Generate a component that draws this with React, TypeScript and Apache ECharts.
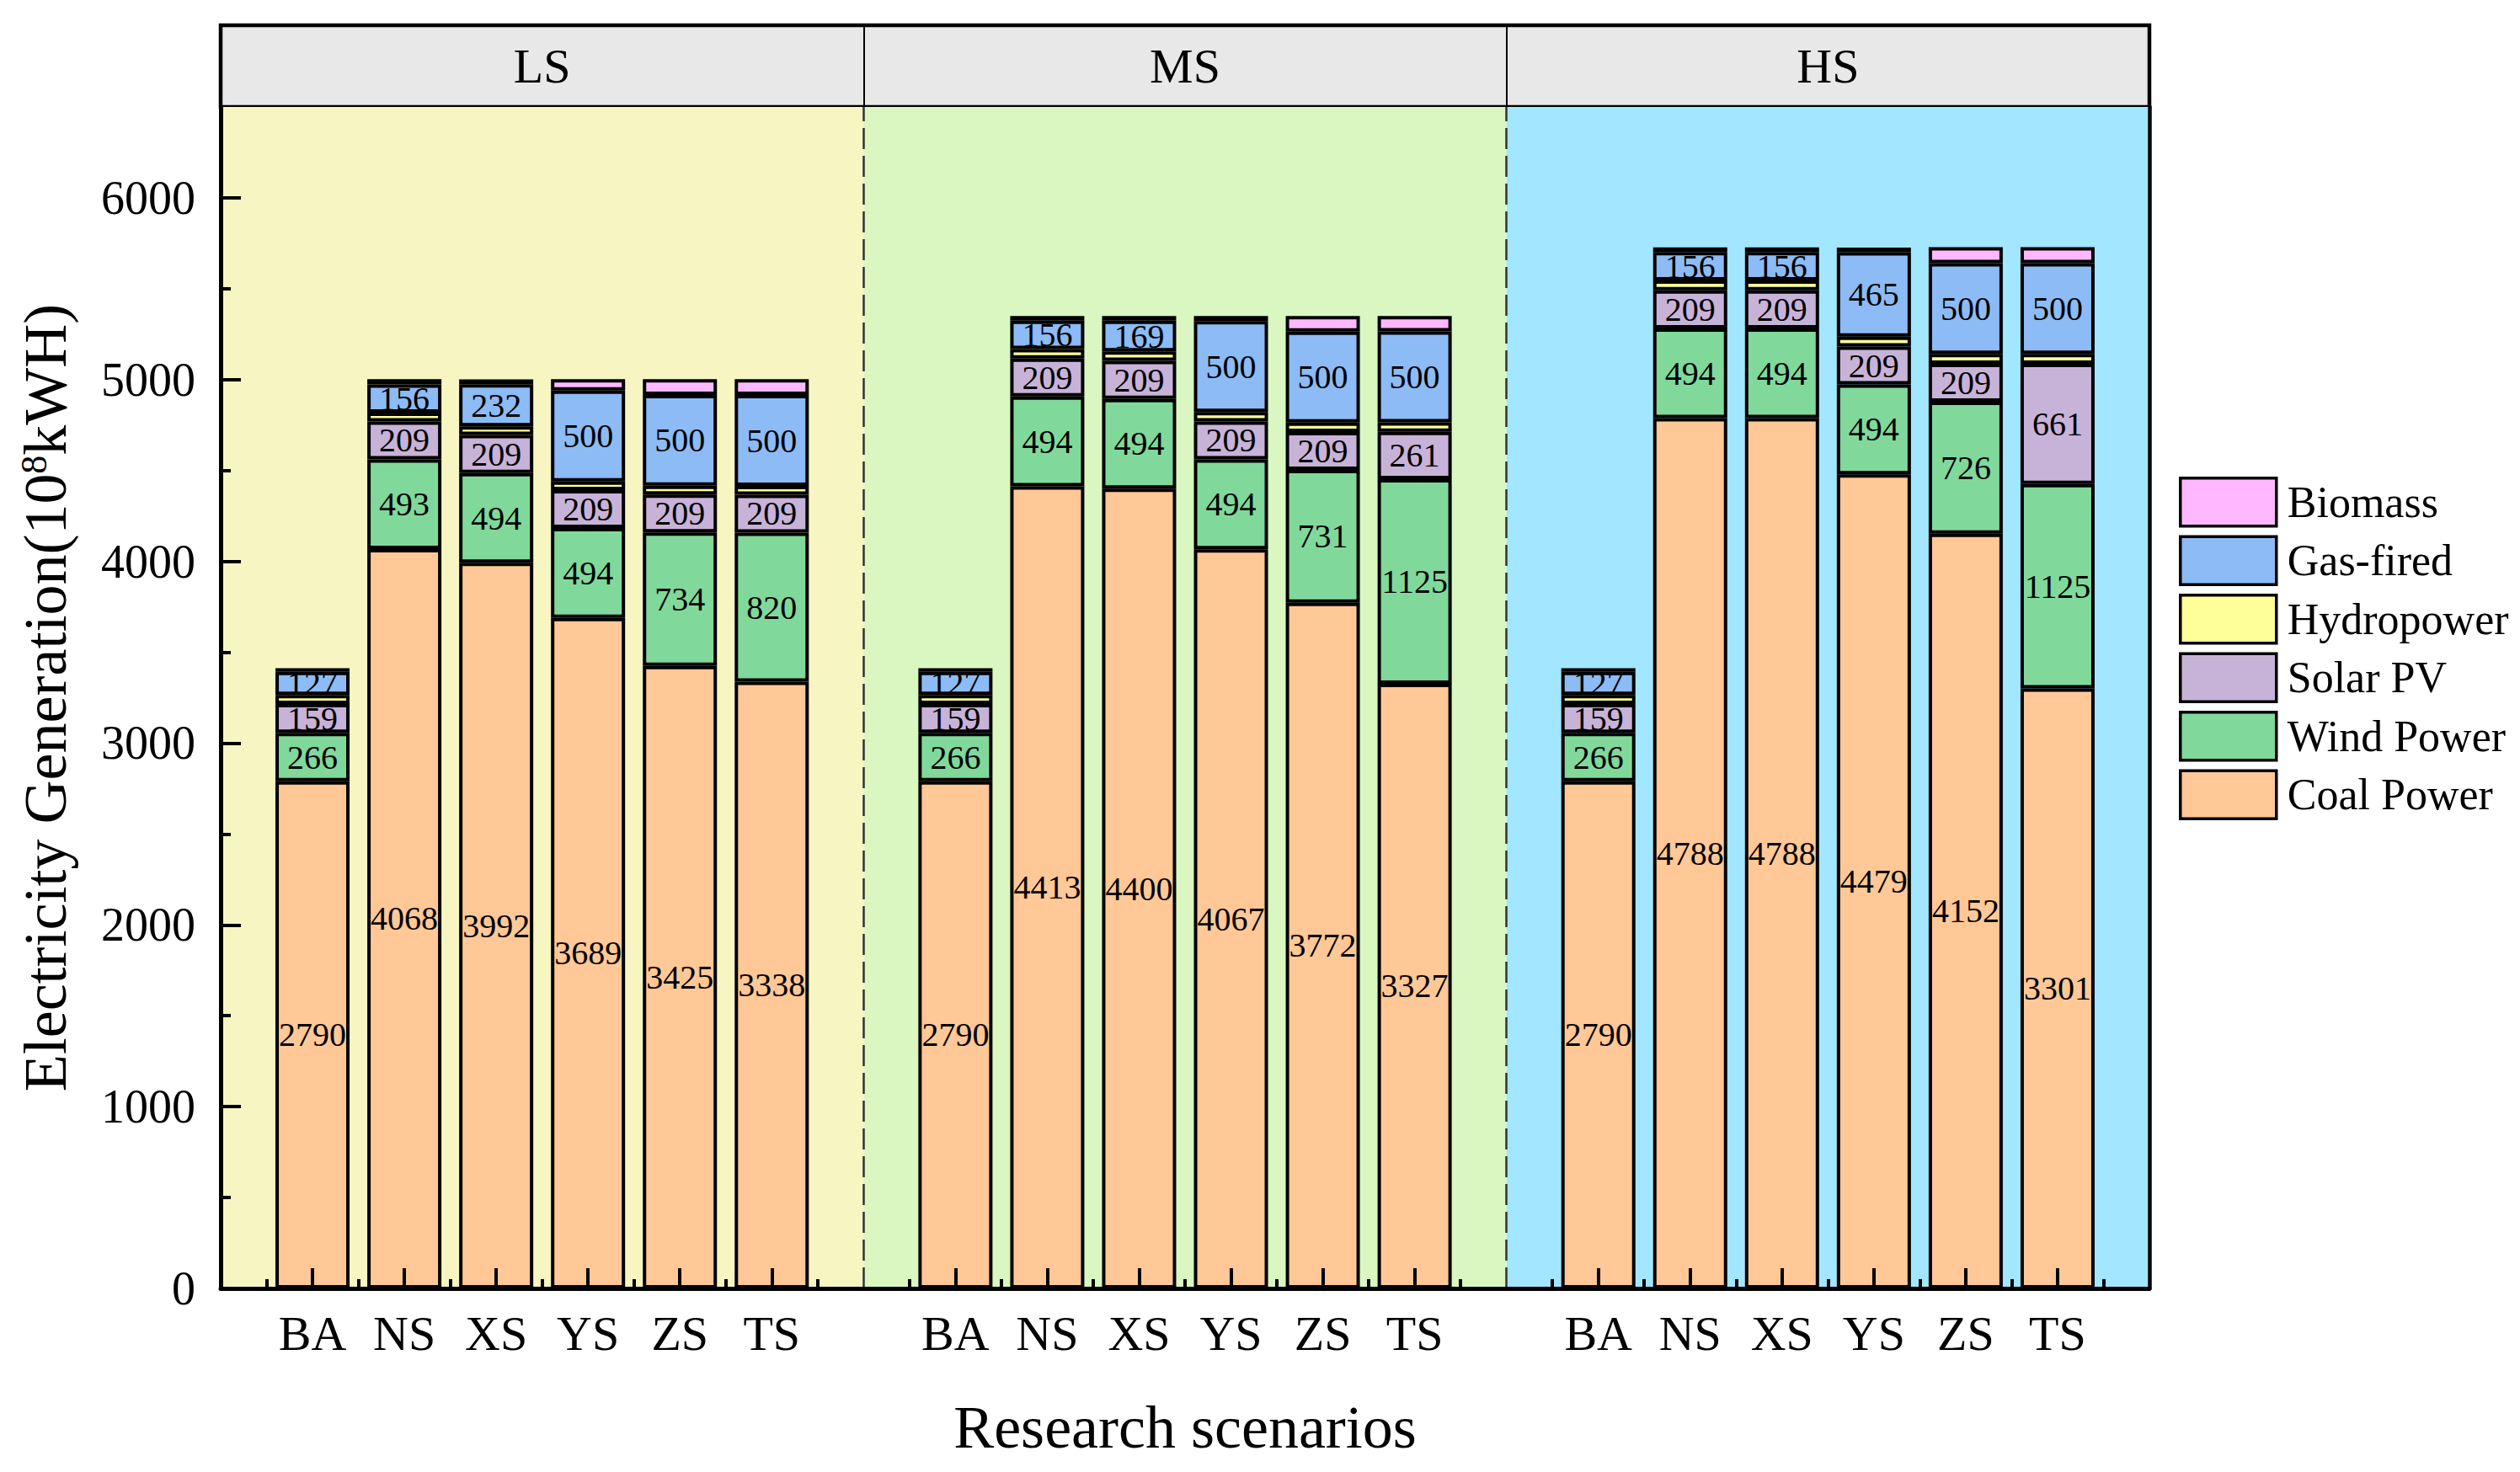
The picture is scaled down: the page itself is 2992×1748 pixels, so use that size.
import React, { useEffect, useRef } from 'react';
import * as echarts from 'echarts';

// ---------- data ----------
const groups = ['LS', 'MS', 'HS'];
const scenarios = ['BA', 'NS', 'XS', 'YS', 'ZS', 'TS'];
const coal = [2790, 4068, 3992, 3689, 3425, 3338, 2790, 4413, 4400, 4067, 3772, 3327, 2790, 4788, 4788, 4479, 4152, 3301];
const wind = [266, 493, 494, 494, 734, 820, 266, 494, 494, 494, 731, 1125, 266, 494, 494, 494, 726, 1125];
const solar = [159, 209, 209, 209, 209, 209, 159, 209, 209, 209, 209, 261, 159, 209, 209, 209, 209, 661];
const hydro = [50, 48, 48, 48, 48, 48, 50, 52, 52, 52, 52, 52, 50, 55, 55, 54, 54, 54];
const gas = [127, 156, 232, 500, 500, 500, 127, 156, 169, 500, 500, 500, 127, 156, 156, 465, 500, 500];
const biomass = [20, 28, 26, 62, 86, 87, 20, 26, 26, 28, 86, 85, 20, 25, 25, 25, 88, 88];
const yTicks = [0, 1000, 2000, 3000, 4000, 5000, 6000];
const yMinorTicks = [500, 1500, 2500, 3500, 4500, 5500];
const legendOrder = ['Biomass', 'Gas-fired', 'Hydropower', 'Solar PV', 'Wind Power', 'Coal Power'];

// ---------- styles ----------
const FONT = '"Liberation Serif", "Times New Roman", serif';
const seriesDefs = [
  { name: 'Coal Power', values: coal, color: '#FFC896', label: true },
  { name: 'Wind Power', values: wind, color: '#80D99B', label: true },
  { name: 'Solar PV', values: solar, color: '#C8B3D8', label: true },
  { name: 'Hydropower', values: hydro, color: '#FFFF99', label: false },
  { name: 'Gas-fired', values: gas, color: '#8CBBF5', label: true },
  { name: 'Biomass', values: biomass, color: '#FFB8FF', label: false },
];
const groupBg = ['#F7F5C2', '#DAF7C2', '#A3E6FF'];

export default function App() {
  const ref = useRef<HTMLDivElement>(null);

  useEffect(() => {
    const chart = echarts.init(ref.current!, null, { renderer: 'svg' });
    const slotsPerGroup = scenarios.length + 1;
    const xMax = groups.length * slotsPerGroup;
    // category slots: an empty slot at each group boundary
    const slotLabels: string[] = [''];
    groups.forEach(() => {
      scenarios.forEach((s) => slotLabels.push(s));
      slotLabels.push('');
    });
    const toSlots = (values: number[]) => {
      const out: (number | string)[] = slotLabels.map(() => '-');
      values.forEach((v, k) => {
        const idx = Math.floor(k / scenarios.length) * slotsPerGroup + (k % scenarios.length) + 1;
        out[idx] = v;
      });
      return out;
    };
    const halves: number[] = [];
    for (let i = 0; i < xMax; i++) halves.push(i + 0.5);
    const yMax = 6500;

    const barSeries = seriesDefs.map((s) => ({
      name: s.name,
      type: 'bar',
      stack: 'total',
      xAxisIndex: 0,
      yAxisIndex: 0,
      barWidth: 88,
      data: toSlots(s.values),
      itemStyle: { color: s.color, borderColor: '#000', borderWidth: 4 },
      label: {
        show: s.label,
        position: 'inside',
        color: '#000',
        fontFamily: FONT,
        fontSize: 40,
        formatter: (p: any) => String(p.value),
      },
      emphasis: { disabled: true },
      z: 2,
    }));

    const option: any = {
      animation: false,
      backgroundColor: '#fff',
      textStyle: { fontFamily: FONT, color: '#000' },
      grid: [
        { left: 262, right: 440, top: 127, bottom: 218, show: false, outerBoundsMode: 'none' },
        {
          left: 262, right: 440, top: 30, height: 97, show: true,
          backgroundColor: '#E8E8E8', borderColor: '#000', borderWidth: 4.5, outerBoundsMode: 'none',
        },
      ],
      xAxis: [
        {
          gridIndex: 0, type: 'category', position: 'bottom', data: slotLabels, boundaryGap: false, z: 10,
          axisLine: { show: true, onZero: false, lineStyle: { color: '#000', width: 5 } },
          axisTick: {
            show: true, inside: true, length: 24, lineStyle: { color: '#000', width: 4 },
            interval: (index: number, value: string) => value !== '',
          },
          axisLabel: { show: true, interval: 0, margin: 24, color: '#000', fontFamily: FONT, fontSize: 58 },
          splitLine: { show: false },
          name: 'Research scenarios', nameLocation: 'middle', nameGap: 129,
          nameTextStyle: { fontFamily: FONT, fontSize: 72, color: '#000' },
        },
        {
          gridIndex: 0, type: 'value', position: 'bottom', min: 0, max: xMax, z: 10,
          axisLine: { show: false, onZero: false },
          axisTick: { show: true, inside: true, length: 11, customValues: halves, lineStyle: { color: '#000', width: 4 } },
          axisLabel: { show: false },
          splitLine: { show: false },
        },
        { gridIndex: 1, type: 'value', min: 0, max: xMax, show: false },
      ],
      yAxis: [
        {
          gridIndex: 0, type: 'value', position: 'left', min: 0, max: yMax, z: 10,
          axisLine: { show: true, onZero: false, lineStyle: { color: '#000', width: 5 } },
          axisTick: { show: true, inside: true, length: 24, customValues: yTicks, lineStyle: { color: '#000', width: 4 } },
          axisLabel: {
            show: true, customValues: yTicks, margin: 30, color: '#000', fontFamily: FONT, fontSize: 56,
            formatter: (v: number) => String(v),
          },
          splitLine: { show: false },
          name: 'Electricity Generation(10{sup|8}kWH)', nameLocation: 'middle', nameGap: 172, nameRotate: 90,
          nameTextStyle: {
            fontFamily: FONT, fontSize: 72, color: '#000',
            rich: { sup: { fontFamily: FONT, fontSize: 44, color: '#000', verticalAlign: 'top' } },
          },
        },
        {
          gridIndex: 0, type: 'value', position: 'left', min: 0, max: yMax, z: 10,
          axisLine: { show: false, onZero: false },
          axisTick: { show: true, inside: true, length: 12, customValues: yMinorTicks, lineStyle: { color: '#000', width: 4 } },
          axisLabel: { show: false },
          splitLine: { show: false },
        },
        {
          gridIndex: 0, type: 'value', position: 'right', min: 0, max: yMax, z: 10,
          axisLine: { show: true, onZero: false, lineStyle: { color: '#000', width: 4.5 } },
          axisTick: { show: false },
          axisLabel: { show: false },
          splitLine: { show: false },
        },
        { gridIndex: 1, type: 'value', min: 0, max: 1, show: false },
      ],
      legend: {
        data: legendOrder,
        orient: 'vertical',
        left: 2582,
        top: 561,
        itemWidth: 114,
        itemHeight: 57,
        itemGap: 9,
        icon: 'rect',
        itemStyle: { borderColor: '#000', borderWidth: 3.5 },
        textStyle: { fontFamily: FONT, fontSize: 52, color: '#000', padding: [0, 0, 0, 8] },
        selectedMode: false,
      },
      series: [
        {
          name: 'bg', type: 'line', xAxisIndex: 1, yAxisIndex: 0, data: [], silent: true,
          markArea: {
            silent: true,
            data: groups.map((g, gi) => [
              { xAxis: gi * slotsPerGroup, itemStyle: { color: groupBg[gi] } },
              { xAxis: (gi + 1) * slotsPerGroup },
            ]),
          },
          markLine: {
            silent: true, symbol: 'none', label: { show: false },
            lineStyle: { color: '#333', width: 2.5, type: [25, 8] },
            data: groups.slice(1).map((_, gi) => ({ xAxis: (gi + 1) * slotsPerGroup })),
          },
        },
        {
          name: 'header', type: 'line', xAxisIndex: 2, yAxisIndex: 3, data: [], silent: true,
          markArea: {
            silent: true,
            itemStyle: { color: 'rgba(0,0,0,0)' },
            label: { show: true, position: 'inside', fontFamily: FONT, fontSize: 58, color: '#000' },
            data: groups.map((g, gi) => [
              { name: g, xAxis: gi * slotsPerGroup },
              { xAxis: (gi + 1) * slotsPerGroup },
            ]),
          },
          markLine: {
            silent: true, symbol: 'none', label: { show: false },
            lineStyle: { color: '#000', width: 2, type: 'solid' },
            data: groups.slice(1).map((_, gi) => ({ xAxis: (gi + 1) * slotsPerGroup })),
          },
        },
        ...barSeries,
      ],
    };
    chart.setOption(option);
    return () => chart.dispose();
  }, []);

  return <div ref={ref} style={{ position: 'fixed', left: 0, top: 0, width: 2992, height: 1748 }} />;
}
